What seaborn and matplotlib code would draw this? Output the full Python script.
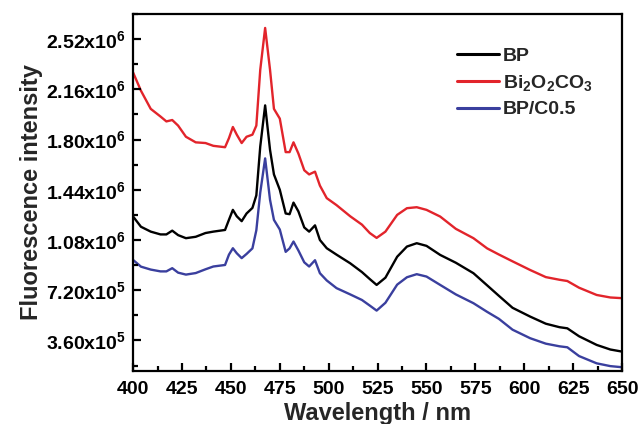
import numpy as np
import pandas as pd
import matplotlib
matplotlib.use("Agg")
import matplotlib.pyplot as plt
import seaborn as sns
from matplotlib.ticker import FixedLocator, MultipleLocator

# ---- data ----
wavelength = [400, 404, 409, 414, 417, 420, 423, 427, 432, 437, 441, 447, 449, 451, 453,
              455.5, 458, 461, 463, 465, 467.5, 470, 472, 475, 478, 480, 482, 484.5, 487.5,
              490, 493, 495.5, 499, 504, 511, 517, 521, 524.5, 529, 535, 540, 545, 550,
              557, 565, 574, 581, 587, 594, 603, 611, 618, 622, 628, 637, 644, 650]

bi2o2co3 = [2.28, 2.15, 2.02, 1.965, 1.93, 1.94, 1.90, 1.82, 1.78, 1.775, 1.755, 1.745, 1.81,
            1.89, 1.835, 1.775, 1.82, 1.835, 1.90, 2.30, 2.60, 2.30, 2.02, 1.95, 1.71, 1.71,
            1.78, 1.70, 1.58, 1.55, 1.57, 1.47, 1.38, 1.33, 1.25, 1.19, 1.13, 1.095, 1.14,
            1.26, 1.308, 1.315, 1.296, 1.248, 1.16, 1.093, 1.02, 0.976, 0.927, 0.865, 0.814,
            0.795, 0.786, 0.738, 0.686, 0.668, 0.663]

bp = [1.248, 1.175, 1.14, 1.12, 1.12, 1.147, 1.115, 1.093, 1.103, 1.13, 1.14, 1.152, 1.225,
      1.296, 1.25, 1.215, 1.27, 1.31, 1.40, 1.75, 2.045, 1.726, 1.55, 1.44, 1.27, 1.265,
      1.348, 1.285, 1.17, 1.14, 1.185, 1.08, 1.021, 0.975, 0.913, 0.85, 0.80, 0.758, 0.81,
      0.96, 1.033, 1.057, 1.038, 0.973, 0.917, 0.842, 0.755, 0.68, 0.594, 0.531, 0.48,
      0.455, 0.447, 0.39, 0.328, 0.295, 0.280]

bp_c05 = [0.937, 0.889, 0.868, 0.855, 0.855, 0.878, 0.846, 0.832, 0.843, 0.87, 0.89, 0.901,
          0.975, 1.021, 0.985, 0.95, 0.98, 1.02, 1.15, 1.42, 1.665, 1.368, 1.224, 1.155,
          0.995, 1.02, 1.069, 1.005, 0.92, 0.89, 0.935, 0.842, 0.79, 0.735, 0.69, 0.65,
          0.61, 0.574, 0.63, 0.76, 0.813, 0.835, 0.818, 0.758, 0.69, 0.627, 0.565, 0.515,
          0.437, 0.376, 0.337, 0.318, 0.311, 0.248, 0.196, 0.176, 0.168]

series_names = ["BP", "Bi2O2CO3", "BP/C0.5"]
legend_labels = ["BP", r"Bi$_{2}$O$_{2}$CO$_{3}$", "BP/C0.5"]
colors = ["#000000", "#e2242b", "#3a3f9e"]

y_ticks = [3.6e5, 7.2e5, 1.08e6, 1.44e6, 1.80e6, 2.16e6, 2.52e6]
y_tick_labels = [r"3.60x10$^{5}$", r"7.20x10$^{5}$", r"1.08x10$^{6}$", r"1.44x10$^{6}$",
                 r"1.80x10$^{6}$", r"2.16x10$^{6}$", r"2.52x10$^{6}$"]
x_ticks = [400, 425, 450, 475, 500, 525, 550, 575, 600, 625, 650]

# ---- build table ----
frames = []
for name, vals in zip(series_names, [bp, bi2o2co3, bp_c05]):
    frames.append(pd.DataFrame({"wl": wavelength,
                                "val": np.array(vals) * 1e6,
                                "series": name}))
df = pd.concat(frames, ignore_index=True)

# ---- style ----
sns.set_style("ticks", {
    "xtick.direction": "in", "ytick.direction": "in",
    "xtick.bottom": True, "ytick.left": True,
    "xtick.top": False, "ytick.right": False,
    "axes.axisbelow": False,
})
plt.rcParams.update({
    "font.family": ["Liberation Sans", "DejaVu Sans"],
    "font.weight": "bold",
    "mathtext.fontset": "custom",
    "mathtext.rm": "Liberation Sans:bold",
    "mathtext.bf": "Liberation Sans:bold",
    "mathtext.it": "Liberation Sans:bold",
    "mathtext.default": "bf",
    "xtick.color": "black", "ytick.color": "black",
})

fig = plt.figure(figsize=(6.4, 4.24), dpi=100)
ax = fig.add_axes([0.208, 0.125, 0.764, 0.842])

sns.lineplot(data=df, x="wl", y="val", hue="series", hue_order=series_names,
             palette=colors, linewidth=1.7, ax=ax, sort=False, estimator=None)

ax.set_axisbelow(False)
ax.set_xlim(400, 650)
ax.set_ylim(1.41e5, 2.70e6)

ax.yaxis.set_major_locator(FixedLocator(y_ticks))
ax.set_yticklabels(y_tick_labels)
ax.yaxis.set_minor_locator(MultipleLocator(1.8e5))
ax.xaxis.set_major_locator(FixedLocator(x_ticks))
ax.set_xticklabels([str(t) for t in x_ticks])
ax.xaxis.set_minor_locator(MultipleLocator(12.5))

ax.tick_params(axis="both", which="major", direction="in", length=6, width=1.6,
               color="black", labelsize=14, bottom=True, left=True,
               top=False, right=False)
ax.tick_params(axis="x", which="major", pad=7)
ax.tick_params(axis="y", which="major", pad=5)
ax.tick_params(axis="both", which="minor", direction="in", length=3.5, width=1.6,
               color="black", bottom=True, left=True, top=False, right=False)
for lab in ax.get_xticklabels() + ax.get_yticklabels():
    lab.set_fontweight("bold")

for sp in ax.spines.values():
    sp.set_visible(True)
    sp.set_linewidth(1.6)
    sp.set_color("black")

ax.set_xlabel("Wavelength / nm", fontsize=17, fontweight="bold", labelpad=3)
ax.set_ylabel("Fluorescence intensity", fontsize=17, fontweight="bold", labelpad=2)

handles, _ = ax.get_legend_handles_labels()
leg = ax.legend(handles, legend_labels, loc="upper left", bbox_to_anchor=(0.642, 0.935),
                frameon=False, fontsize=14, handlelength=2.15, handletextpad=0.22,
                labelspacing=0.42, borderpad=0)
for t in leg.get_texts():
    t.set_fontweight("bold")
for l in leg.get_lines():
    l.set_linewidth(2.2)

fig.savefig("out.png", dpi=100)
